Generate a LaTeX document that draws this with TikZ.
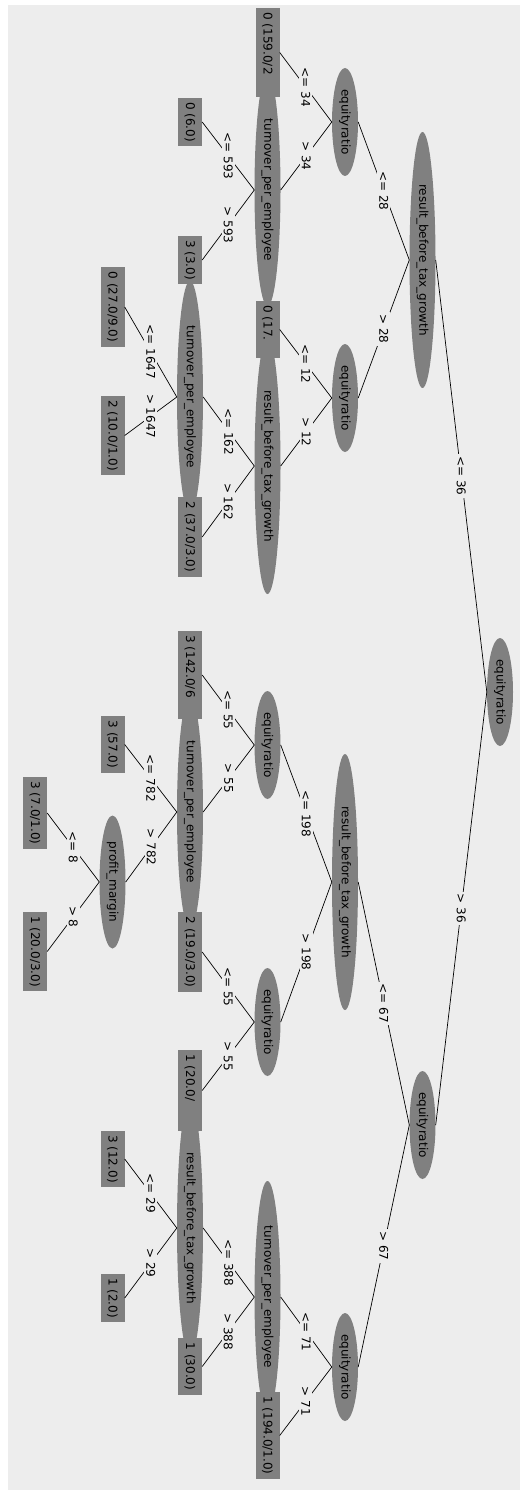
\documentclass[tikz,border=0pt]{standalone}
\usepackage{fontspec}
\setmainfont{DejaVu Sans}
\usepackage{tikz}
\usetikzlibrary{shapes.geometric}
\definecolor{panel}{HTML}{EDEDED}
\definecolor{nodegray}{HTML}{808080}
\newcommand{\trunc}[2]{\makebox[#1pt][l]{#2}}

\begin{document}
\begin{tikzpicture}[x=1pt,y=-1pt,
  s/.style={ellipse,fill=nodegray,rotate=-90,inner sep=0pt,minimum height=26pt,
            minimum width=#1,font=\fontsize{12}{14}\selectfont},
  l/.style={rectangle,fill=nodegray,rotate=-90,inner xsep=4.5pt,inner ysep=0pt,
            minimum height=24pt,font=\fontsize{12}{14}\selectfont},
  lab/.style={fill=panel,rotate=-90,inner sep=2pt,font=\fontsize{12}{14}\selectfont},
  a/.style={draw=black,line width=0.7pt}
]
  \useasboundingbox (0,0) rectangle (520,1490);
  \fill[panel] (8,5) rectangle (520,1490);
  % tests
  \node[s=108] (root) at (500,692) {equityratio};
  \node[s=256] (rbtgL) at (422.5,260) {result\_before\_tax\_growth};
  \node[s=108] (eqR) at (422.5,1125) {equityratio};
  \node[s=108] (eqLL) at (345,122) {equityratio};
  \node[s=108] (eqLR) at (345,398) {equityratio};
  \node[s=256] (rbtgRL) at (345,882) {result\_before\_tax\_growth};
  \node[s=108] (eqRR) at (345,1367) {equityratio};
  \node[s=232] (tpeA) at (267.5,190) {turnover\_per\_employee};
  \node[s=256] (rbtgB) at (267.5,466) {result\_before\_tax\_growth};
  \node[s=108] (eqC) at (267.5,745) {equityratio};
  \node[s=108] (eqD) at (267.5,1022) {equityratio};
  \node[s=232] (tpeC) at (267.5,1297) {turnover\_per\_employee};
  \node[s=232] (tpeB) at (190,397) {turnover\_per\_employee};
  \node[s=232] (tpeD) at (190,812) {turnover\_per\_employee};
  \node[s=256] (rbtgC) at (190,1228) {result\_before\_tax\_growth};
  \node[s=133] (pm) at (112.5,882) {profit\_margin};
  % leaves
  \node[l] (leafA) at (267.5,52.5) {\trunc{80}{0 (159.0/2}};
  \node[l] (leafB) at (267.5,329.5) {\trunc{48}{0 (17.}};
  \node[l] (leafC) at (267.5,1435.5) {1 (194.0/1.0)};
  \node[l] (leafD) at (190,122) {0 (6.0)};
  \node[l] (leafE) at (190,260) {3 (3.0)};
  \node[l] (leafF) at (190,537) {2 (37.0/3.0)};
  \node[l] (leafG) at (190,675) {\trunc{79}{3 (142.0/6}};
  \node[l] (leafH) at (190,952) {2 (19.0/3.0)};
  \node[l] (leafI) at (190,1090.5) {\trunc{72}{1 (20.0/}};
  \node[l] (leafJ) at (190,1366.5) {1 (30.0)};
  \node[l] (leafK) at (112.5,307) {0 (27.0/9.0)};
  \node[l] (leafL) at (112.5,435.5) {2 (10.0/1.0)};
  \node[l] (leafM) at (112.5,744.5) {3 (57.0)};
  \node[l] (leafN) at (112.5,1159) {3 (12.0)};
  \node[l] (leafO) at (112.5,1298) {1 (2.0)};
  \node[l] (leafP) at (35,813) {3 (7.0/1.0)};
  \node[l] (leafQ) at (35,951.5) {1 (20.0/3.0)};
  % branches
  \draw[a] (root.south) -- node[lab]{<= 36} (rbtgL.north);
  \draw[a] (root.south) -- node[lab]{> 36} (eqR.north);
  \draw[a] (rbtgL.south) -- node[lab]{<= 28} (eqLL.north);
  \draw[a] (rbtgL.south) -- node[lab]{> 28} (eqLR.north);
  \draw[a] (eqR.south) -- node[lab]{<= 67} (rbtgRL.north);
  \draw[a] (eqR.south) -- node[lab]{> 67} (eqRR.north);
  \draw[a] (eqLL.south) -- node[lab]{<= 34} (leafA.north);
  \draw[a] (eqLL.south) -- node[lab]{> 34} (tpeA.north);
  \draw[a] (eqLR.south) -- node[lab]{<= 12} (leafB.north);
  \draw[a] (eqLR.south) -- node[lab]{> 12} (rbtgB.north);
  \draw[a] (rbtgRL.south) -- node[lab]{<= 198} (eqC.north);
  \draw[a] (rbtgRL.south) -- node[lab]{> 198} (eqD.north);
  \draw[a] (eqRR.south) -- node[lab]{<= 71} (tpeC.north);
  \draw[a] (eqRR.south) -- node[lab]{> 71} (leafC.north);
  \draw[a] (tpeA.south) -- node[lab]{<= 593} (leafD.north);
  \draw[a] (tpeA.south) -- node[lab]{> 593} (leafE.north);
  \draw[a] (rbtgB.south) -- node[lab]{<= 162} (tpeB.north);
  \draw[a] (rbtgB.south) -- node[lab]{> 162} (leafF.north);
  \draw[a] (eqC.south) -- node[lab]{<= 55} (leafG.north);
  \draw[a] (eqC.south) -- node[lab]{> 55} (tpeD.north);
  \draw[a] (eqD.south) -- node[lab]{<= 55} (leafH.north);
  \draw[a] (eqD.south) -- node[lab]{> 55} (leafI.north);
  \draw[a] (tpeC.south) -- node[lab]{<= 388} (rbtgC.north);
  \draw[a] (tpeC.south) -- node[lab]{> 388} (leafJ.north);
  \draw[a] (tpeB.south) -- node[lab]{<= 1647} (leafK.north);
  \draw[a] (tpeB.south) -- node[lab]{> 1647} (leafL.north);
  \draw[a] (tpeD.south) -- node[lab]{<= 782} (leafM.north);
  \draw[a] (tpeD.south) -- node[lab]{> 782} (pm.north);
  \draw[a] (rbtgC.south) -- node[lab]{<= 29} (leafN.north);
  \draw[a] (rbtgC.south) -- node[lab]{> 29} (leafO.north);
  \draw[a] (pm.south) -- node[lab]{<= 8} (leafP.north);
  \draw[a] (pm.south) -- node[lab]{> 8} (leafQ.north);
\end{tikzpicture}
\end{document}
